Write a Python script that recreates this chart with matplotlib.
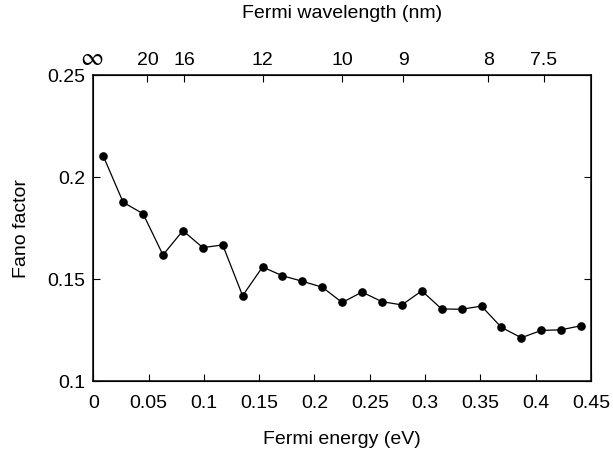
import numpy as np
import matplotlib
matplotlib.use('Agg')
import matplotlib.pyplot as plt

plt.rcParams['font.family'] = ['Liberation Sans', 'DejaVu Sans']
plt.rcParams['font.size'] = 14

# Fermi energy (eV) and Fano factor
energy = [0.009, 0.027, 0.045, 0.063, 0.081, 0.099, 0.117, 0.135, 0.153,
          0.171, 0.189, 0.207, 0.225, 0.243, 0.261, 0.279, 0.297, 0.315,
          0.333, 0.351, 0.369, 0.387, 0.405, 0.423, 0.441]
fano = [0.2103, 0.1876, 0.1820, 0.1618, 0.1737, 0.1654, 0.1667, 0.1418,
        0.1559, 0.1516, 0.1489, 0.1460, 0.1385, 0.1436, 0.1389, 0.1373,
        0.1442, 0.1353, 0.1352, 0.1367, 0.1263, 0.1212, 0.1248, 0.1251,
        0.1271]

# top axis: Fermi wavelength ticks
wavelengths = [20, 16, 12, 10, 9, 8, 7.5]
wl_labels = ['20', '16', '12', '10', '9', '8', '7.5']


def wl_to_energy(wl):
    return 23.47 / np.asarray(wl, dtype=float) ** 2 - 0.0097


fig = plt.figure(figsize=(6.13, 4.5), dpi=100)
ax = fig.add_axes([0.1522, 0.1533, 0.8119, 0.68])

ax.plot(energy, fano, '-', color='black', lw=0.9,
        marker='o', markersize=5.2, markerfacecolor='black')

ax.set_xlim(0, 0.45)
ax.set_ylim(0.1, 0.25)
ax.set_xticks(np.arange(0, 0.451, 0.05))
ax.set_xticklabels(['0', '0.05', '0.1', '0.15', '0.2', '0.25', '0.3',
                    '0.35', '0.4', '0.45'])
ax.set_yticks([0.1, 0.15, 0.2, 0.25])
ax.set_yticklabels(['0.1', '0.15', '0.2', '0.25'])
ax.tick_params(direction='in', length=5, width=0.8, top=False, right=True)
ax.tick_params(axis='x', pad=10)
ax.tick_params(axis='y', pad=6)
ax.set_xlabel('Fermi energy (eV)', labelpad=14)
ax.set_ylabel('Fano factor', labelpad=12)
for s in ax.spines.values():
    s.set_linewidth(1.1)

ax2 = ax.twiny()
ax2.set_xlim(ax.get_xlim())
ax2.set_xticks(wl_to_energy(wavelengths))
ax2.set_xticklabels(wl_labels)
ax2.tick_params(direction='in', length=5, width=0.8, pad=4)

# infinity sign at E = 0 (long wavelength limit)
ax2.text(-0.001, 1.052, '\u221e', transform=ax2.get_xaxis_transform(),
         family=['STIXGeneral', 'DejaVu Sans'], fontsize=18,
         ha='center', va='center')

# top axis title
fig.text(0.558, 1 - 13 / 450, 'Fermi wavelength (nm)', ha='center', va='center')

fig.savefig('out.png', dpi=100)
